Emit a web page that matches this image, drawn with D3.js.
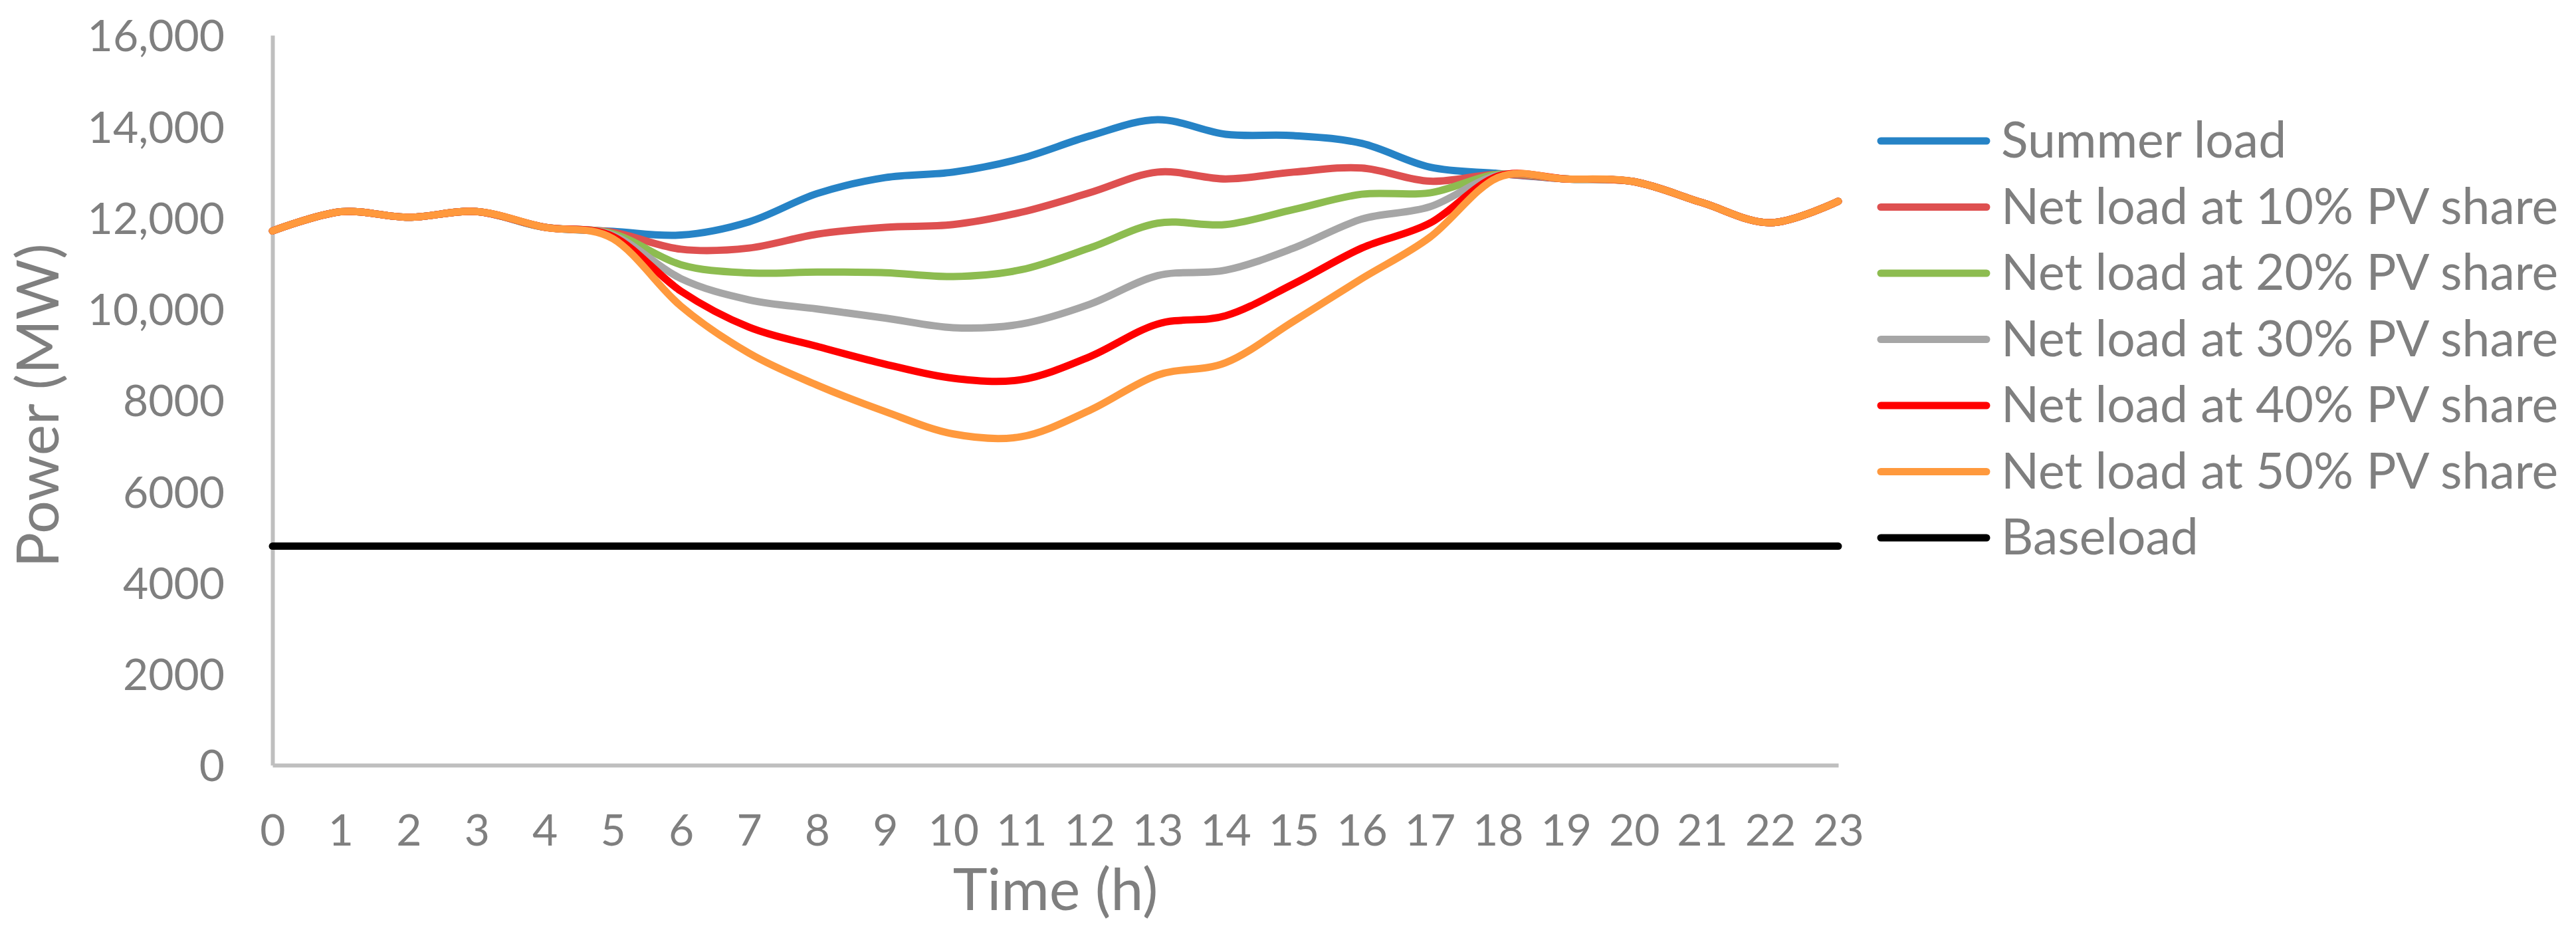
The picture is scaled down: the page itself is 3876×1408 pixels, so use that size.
<!DOCTYPE html>
<html>
<head>
<meta charset="utf-8">
<script src="https://cdn.jsdelivr.net/npm/d3@7"></script>
<style>
  html, body { margin: 0; padding: 0; background: #ffffff; }
  svg { display: block; }
</style>
</head>
<body>
<svg id="chart" width="3876" height="1408"></svg>
<script>
// ---------------- DATA ----------------
const hours = d3.range(0, 24);
const xTickLabels = ["0","1","2","3","4","5","6","7","8","9","10","11","12","13","14","15","16","17","18","19","20","21","22","23"];
const yTickValues = [0, 2000, 4000, 6000, 8000, 10000, 12000, 14000, 16000];
const yTickLabels = ["0", "2000", "4000", "6000", "8000", "10,000", "12,000", "14,000", "16,000"];

const seriesNames = [
  "Summer load",
  "Net load at 10% PV share",
  "Net load at 20% PV share",
  "Net load at 30% PV share",
  "Net load at 40% PV share",
  "Net load at 50% PV share",
  "Baseload"
];
const seriesColors = ["#2683C6", "#DE5050", "#8DBC50", "#A6A6A6", "#FF0000", "#FF993D", "#000000"];

//                    0      1      2      3      4      5      6      7      8      9     10     11     12     13     14     15     16     17     18     19     20     21     22     23
const summerLoad = [11710, 12130, 12010, 12135, 11790, 11700, 11620, 11910, 12530, 12880, 13000, 13300, 13790, 14150, 13830, 13800, 13630, 13110, 12970, 12850, 12790, 12330, 11890, 12360];
const netLoad10  = [11710, 12130, 12010, 12135, 11790, 11680, 11310, 11335, 11640, 11790, 11850, 12120, 12545, 13000, 12850, 13000, 13090, 12800, 12950, 12850, 12790, 12330, 11890, 12360];
const netLoad20  = [11710, 12130, 12010, 12135, 11790, 11650, 10970, 10790, 10810, 10795, 10710, 10860, 11335, 11880, 11850, 12180, 12515, 12545, 12950, 12850, 12790, 12330, 11890, 12360];
const netLoad30  = [11710, 12130, 12010, 12135, 11790, 11620, 10665, 10200, 10000,  9800,  9590,  9670, 10100, 10730, 10850, 11335, 11970, 12240, 12930, 12850, 12790, 12330, 11890, 12360];
const netLoad40  = [11710, 12130, 12010, 12135, 11790, 11590, 10390,  9600,  9180,  8790,  8480,  8450,  8950,  9670,  9850, 10550, 11335, 11880, 12910, 12850, 12790, 12330, 11890, 12360];
const netLoad50  = [11710, 12130, 12010, 12135, 11790, 11540, 10060,  9030,  8330,  7750,  7260,  7200,  7775,  8550,  8820,  9730, 10665, 11570, 12880, 12850, 12790, 12330, 11890, 12360];
const baseload   = [4800, 4800, 4800, 4800, 4800, 4800, 4800, 4800, 4800, 4800, 4800, 4800, 4800, 4800, 4800, 4800, 4800, 4800, 4800, 4800, 4800, 4800, 4800, 4800];

const seriesValues = [summerLoad, netLoad10, netLoad20, netLoad30, netLoad40, netLoad50, baseload];

const yAxisTitle = "Power (MW)";
const xAxisTitle = "Time (h)";

// ---------------- LAYOUT ----------------
const FONT = "Lato, 'Open Sans', 'Noto Sans', sans-serif";
const TEXT_COLOR = "#7F7F7F";
const AXIS_COLOR = "#BFBFBF";

const plot = { left: 410, right: 2766, top: 53, bottom: 1151 };

const svg = d3.select("#chart");

const x = d3.scaleLinear().domain([0, 23]).range([plot.left, plot.right]);
const y = d3.scaleLinear().domain([0, 16000]).range([plot.bottom, plot.top]);

// ---------------- AXES ----------------
const yAxis = d3.axisLeft(y)
  .tickValues(yTickValues)
  .tickSize(0)
  .tickSizeOuter(0)
  .tickPadding(72)
  .tickFormat((d, i) => yTickLabels[i]);

const gy = svg.append("g")
  .attr("transform", `translate(${plot.left},0)`)
  .call(yAxis);
gy.select(".domain").attr("stroke", AXIS_COLOR).attr("stroke-width", 6);
gy.selectAll(".tick text")
  .attr("fill", TEXT_COLOR)
  .style("font-family", FONT)
  .style("font-size", "66px")
  .attr("dy", "0.36em");

const xAxis = d3.axisBottom(x)
  .tickValues(hours)
  .tickSize(0)
  .tickSizeOuter(0)
  .tickFormat((d, i) => xTickLabels[i]);

const gx = svg.append("g")
  .attr("transform", `translate(0,${plot.bottom})`)
  .call(xAxis);
gx.select(".domain").attr("stroke", AXIS_COLOR).attr("stroke-width", 6);
gx.selectAll(".tick text")
  .attr("fill", TEXT_COLOR)
  .style("font-family", FONT)
  .style("font-size", "66px")
  .attr("y", 121)
  .attr("dy", "0");

// Axis titles
svg.append("text")
  .attr("transform", `translate(88,610) rotate(-90)`)
  .attr("text-anchor", "middle")
  .attr("fill", TEXT_COLOR)
  .style("font-family", FONT)
  .style("font-size", "88px")
  .text(yAxisTitle);

svg.append("text")
  .attr("x", (plot.left + plot.right) / 2)
  .attr("y", 1369)
  .attr("text-anchor", "middle")
  .attr("fill", TEXT_COLOR)
  .style("font-family", FONT)
  .style("font-size", "88px")
  .text(xAxisTitle);

// ---------------- LINES ----------------
const line = d3.line()
  .x((d, i) => x(hours[i]))
  .y(d => y(d))
  .curve(d3.curveCatmullRom.alpha(0));

svg.append("g")
  .selectAll("path")
  .data(seriesValues)
  .join("path")
  .attr("d", d => line(d))
  .attr("fill", "none")
  .attr("stroke", (d, i) => seriesColors[i])
  .attr("stroke-width", 11)
  .attr("stroke-linecap", "round")
  .attr("stroke-linejoin", "round");

// ---------------- LEGEND ----------------
const legend = svg.append("g").attr("transform", "translate(2830,212)");
const legendItems = legend.selectAll("g")
  .data(seriesNames)
  .join("g")
  .attr("transform", (d, i) => `translate(0,${i * 99.5})`);

legendItems.append("line")
  .attr("x1", 0).attr("x2", 159)
  .attr("y1", 0).attr("y2", 0)
  .attr("stroke", (d, i) => seriesColors[i])
  .attr("stroke-width", 11)
  .attr("stroke-linecap", "round");

legendItems.append("text")
  .attr("x", 181)
  .attr("y", 25)
  .attr("fill", TEXT_COLOR)
  .style("font-family", FONT)
  .style("font-size", "75px")
  .text(d => d);
</script>
</body>
</html>
